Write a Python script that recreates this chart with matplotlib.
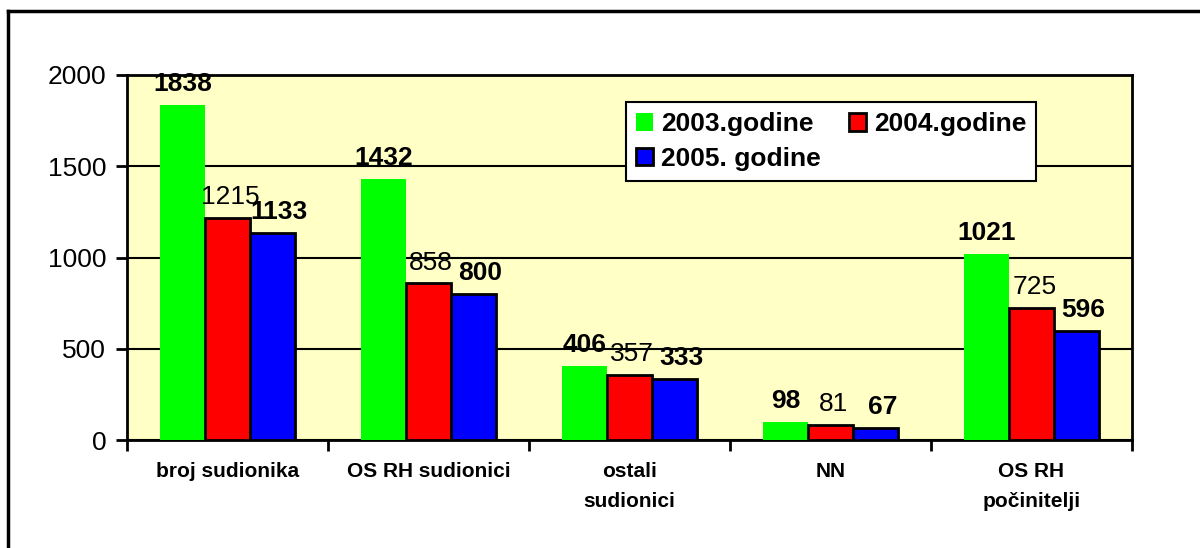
import matplotlib.pyplot as plt
import numpy as np
from matplotlib.lines import Line2D

plt.rcParams['font.family'] = ['Liberation Sans', 'DejaVu Sans']

categories = ['broj sudionika', 'OS RH sudionici', 'ostali\nsudionici', 'NN', 'OS RH\npočinitelji']
series_names = ['2003.godine', '2004.godine', '2005. godine']
v2003 = [1838, 1432, 406, 98, 1021]
v2004 = [1215, 858, 357, 81, 725]
v2005 = [1133, 800, 333, 67, 596]

colors = ['#00FF00', '#FF0000', '#0000FF']
edges = ['none', 'black', 'black']
weights = ['bold', 'normal', 'bold']
label_dx = [0, 2, 5]  # small sideways nudge of the value labels (points)

fig = plt.figure(figsize=(12, 5.48), dpi=100)
ax = fig.add_axes([127/1200, 1-440/548, (1132-127)/1200, (440-75)/548])
ax.set_facecolor('#FFFFC6')

x = np.arange(len(categories))
w = 0.224
bars = []
for i, (vals, name) in enumerate(zip([v2003, v2004, v2005], series_names)):
    pos = x + (i - 1) * w
    b = ax.bar(pos, vals, w, color=colors[i], edgecolor=edges[i], linewidth=2,
               label=name, zorder=3)
    bars.append(b)
    for p, v in zip(pos, vals):
        ax.annotate(str(v), (p, v), xytext=(label_dx[i], 10), textcoords='offset points',
                    ha='center', va='baseline', fontsize=19,
                    fontweight=weights[i], zorder=4)

ax.set_xlim(-0.5, len(categories) - 0.5)
ax.set_ylim(0, 2000)
ax.set_yticks([0, 500, 1000, 1500, 2000])
ax.yaxis.grid(True, color='black', linewidth=1.5, zorder=1)
ax.set_axisbelow(True)
ax.set_xticks(np.arange(len(categories) + 1) - 0.5)
ax.set_xticklabels([])
ax.set_xticks(x, minor=True)
ax.set_xticklabels(categories, minor=True, fontsize=15, fontweight='bold')
for t in ax.get_xticklabels(minor=True):
    t.set_linespacing(1.75)
ax.tick_params(axis='x', which='minor', length=0, pad=16)
ax.tick_params(axis='x', which='major', length=8, width=2, direction='out')
ax.tick_params(axis='y', length=8, width=2, direction='out', labelsize=19, pad=7)
for s in ax.spines.values():
    s.set_linewidth(2)
    s.set_color('black')

# row-major order like the original legend
order = [0, 2, 1]
leg = ax.legend([bars[k] for k in order], [series_names[k] for k in order],
                loc='upper left', bbox_to_anchor=(499/1005, 1-27/365), ncol=2,
                prop={'size': 19, 'weight': 'bold'}, frameon=True, fancybox=False,
                edgecolor='black', framealpha=1, handlelength=0.65, handleheight=0.65,
                handletextpad=0.3, columnspacing=1.05, borderpad=0.38, labelspacing=0.4,
                borderaxespad=0)
leg.get_frame().set_linewidth(1.5)

# outer border
fig.add_artist(Line2D([8/1200, 8/1200], [0, 1-11/548], color='black', linewidth=2.5))
fig.add_artist(Line2D([8/1200, 1], [1-11/548, 1-11/548], color='black', linewidth=2.5))

fig.savefig('out.png', dpi=100)
